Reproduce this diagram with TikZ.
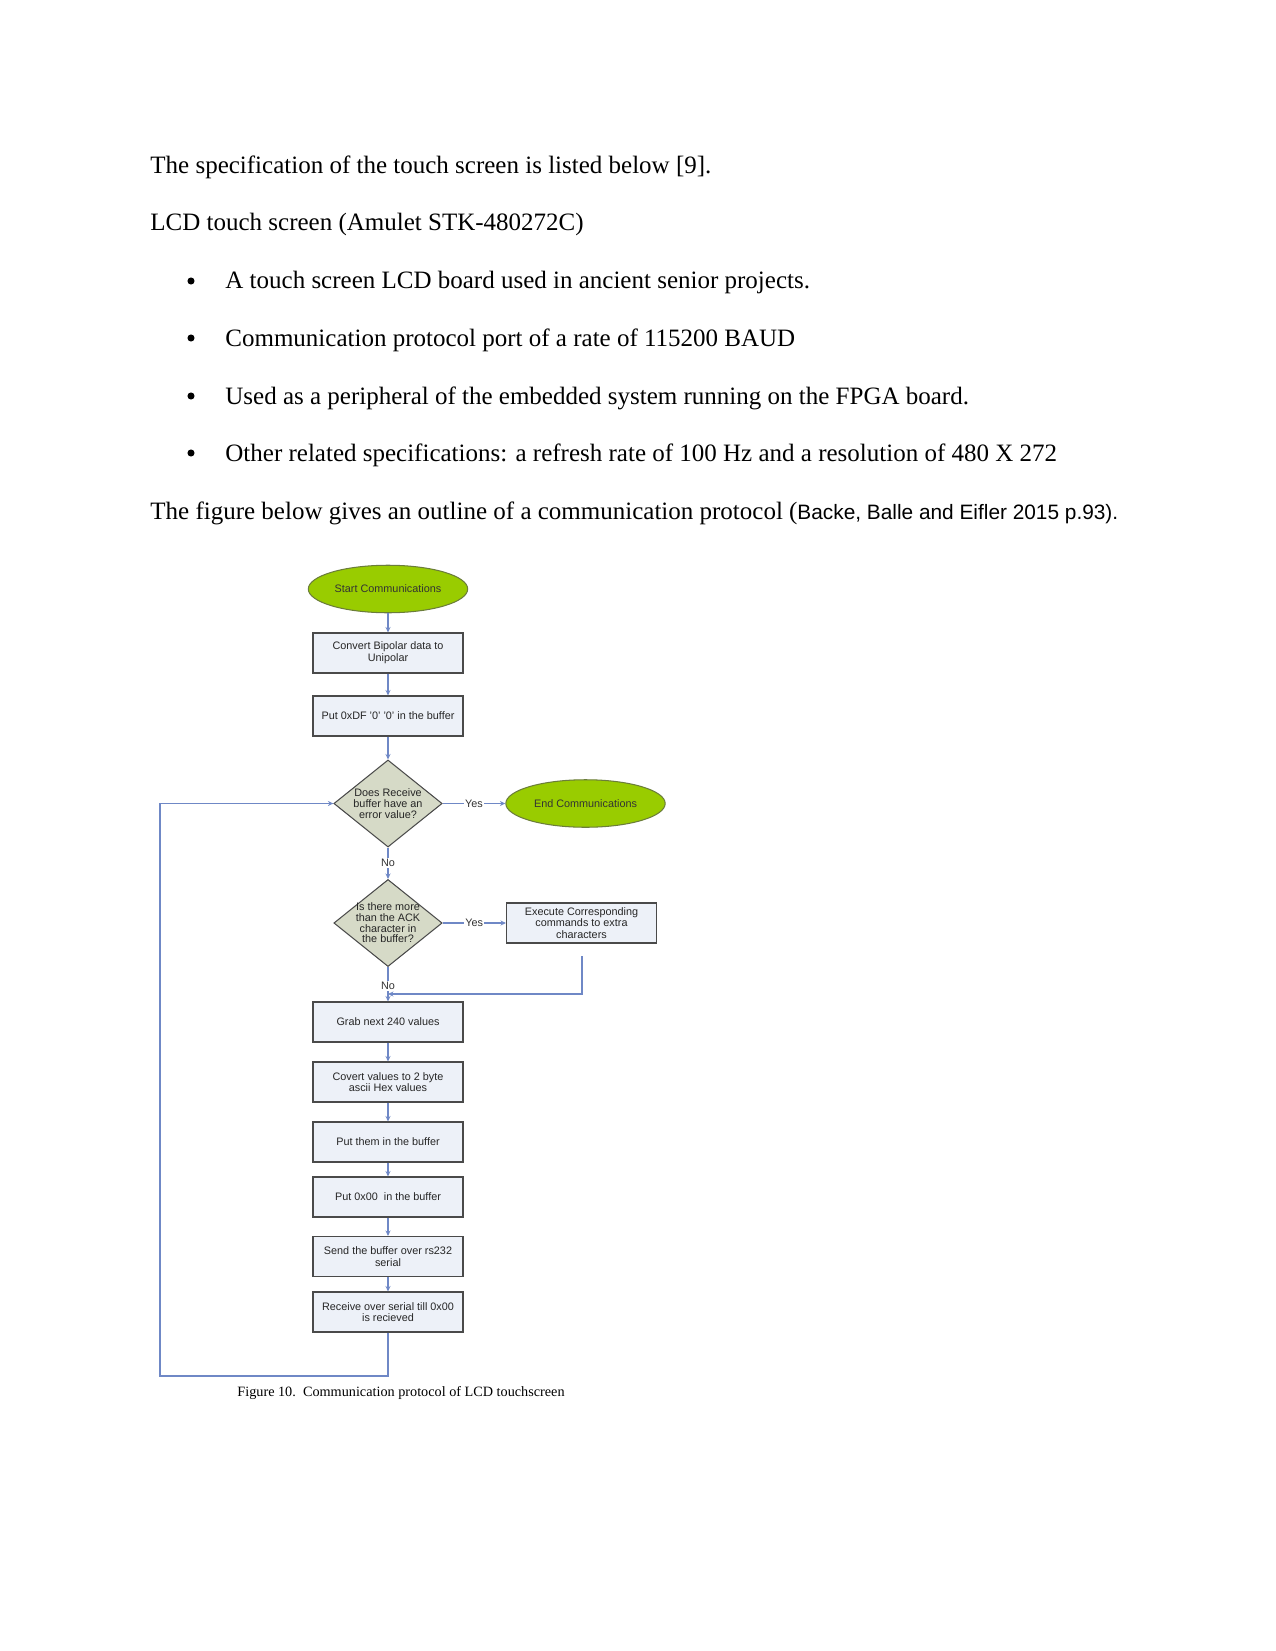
\documentclass[tikz,border=0pt]{standalone}
\usepackage{fontspec}
\setmainfont{Liberation Serif}
\setsansfont{Liberation Sans}
\usetikzlibrary{shapes.geometric,arrows.meta}
\definecolor{lime}{HTML}{99CC00}
\definecolor{limeedge}{HTML}{6B7D3A}
\definecolor{boxfill}{HTML}{EDF1F8}
\definecolor{diafill}{HTML}{D6DAC7}
\definecolor{edgegray}{HTML}{4A4A4A}
\definecolor{conn}{HTML}{6F88C6}
\tikzset{
  body/.style={anchor=base west, inner sep=0pt, font=\fontsize{12pt}{14pt}\selectfont},
  bulletmark/.style={circle, fill=black, inner sep=0pt, minimum size=3.4pt},
  proc/.style={rectangle, draw=edgegray, line width=0.55pt, fill=boxfill, minimum width=72pt, minimum height=19.2pt, inner sep=1pt, align=center, font=\sffamily\fontsize{5.2pt}{5.6pt}\selectfont, text=black!85},
  term/.style={ellipse, draw=limeedge, line width=0.5pt, fill=lime, minimum width=76.5pt, minimum height=22.8pt, inner sep=0pt, font=\sffamily\fontsize{5.2pt}{5.6pt}\selectfont, text=black!80},
  decision/.style={diamond, draw=edgegray, line width=0.5pt, fill=diafill, minimum width=52pt, minimum height=41.8pt, inner sep=0pt},
  dtext/.style={align=center, inner sep=0pt, font=\sffamily\fontsize{5.2pt}{5.1pt}\selectfont, text=black!85},
  flow/.style={draw=conn, line width=0.5pt, -{Stealth[length=2.6pt,width=2.4pt]}},
  lbl/.style={fill=white, inner sep=0.6pt, font=\sffamily\fontsize{5.2pt}{5.6pt}\selectfont, text=black!80},
  captionstyle/.style={anchor=base west, inner sep=0pt, font=\fontsize{6.83pt}{8pt}\selectfont}
}
\begin{document}
\begin{tikzpicture}[x=0.48pt, y=-0.48pt]
\useasboundingbox[fill=white] (0,0) rectangle (1275,1651);

% body text
\node[body] (t1) at (150,174) {The specification of the touch screen is listed below [9].};
\node[body] (t2) at (150,231) {LCD touch screen (Amulet STK-480272C)};
\node[bulletmark] (bu1) at (191,281) {};
\node[body] (l1) at (225,289) {A touch screen LCD board used in ancient senior projects.};
\node[bulletmark] (bu2) at (191,338) {};
\node[body] (l2) at (225,346) {Communication protocol port of a rate of 115200 BAUD};
\node[bulletmark] (bu3) at (191,396) {};
\node[body] (l3) at (225,404) {Used as a peripheral of the embedded system running on the FPGA board.};
\node[bulletmark] (bu4) at (191,453) {};
\node[body] (l4) at (225,461) {Other related specifications: a refresh rate of 100 Hz and a resolution of 480 X 272};
\node[body] (t3) at (150,519) {The figure below gives an outline of a communication protocol ({\sffamily\fontsize{10pt}{12pt}\selectfont Backe, Balle and Eifler 2015 p.93).}};

% flowchart nodes
\node[term] (start) at (388,589) {Start Communications};
\node[proc] (b1) at (388,653) {Convert Bipolar data to\\Unipolar};
\node[proc] (b2) at (388,716) {Put 0xDF '0' '0' in the buffer};
\node[decision] (d1) at (388,803.5) {};
\node[dtext] (d1t) at (388,803.5) {Does Receive\\buffer have an\\error value?};
\node[term] (endc) at (585.5,803.5) {End Communications};
\node[decision] (d2) at (388,923) {};
\node[dtext] (d2t) at (388,923) {Is there more\\than the ACK\\character in\\the buffer?};
\node[proc] (exec) at (581.5,923) {Execute Corresponding\\commands to extra\\characters};
\node[proc] (grab) at (388,1022) {Grab next 240 values};
\node[proc] (covert) at (388,1082) {Covert values to 2 byte\\ascii Hex values};
\node[proc] (putthem) at (388,1142) {Put them in the buffer};
\node[proc] (put00) at (388,1197) {Put 0x00\ \ in the buffer};
\node[proc] (send) at (388,1256.5) {Send the buffer over rs232\\serial};
\node[proc] (recv) at (388,1312) {Receive over serial till 0x00\\is recieved};

\coordinate (execbot) at (582,956);
\coordinate (joinpt) at (388,994);
\coordinate (loopa) at (388,1376);
\coordinate (loopb) at (160,1376);
\coordinate (loopc) at (160,803.5);

% connectors
\draw[flow] (start) -- (b1);
\draw[flow] (b1) -- (b2);
\draw[flow] (b2) -- (d1.north);
\draw[flow] (d1.east) -- node[lbl] (yes1) {Yes} (endc.west);
\draw[flow] (d1.south) -- node[lbl] (no1) {No} (d2.north);
\draw[flow] (d2.east) -- node[lbl] (yes2) {Yes} (exec.west);
\draw[flow] (d2.south) -- node[lbl, pos=0.55] (no2) {No} (grab.north);
\draw[flow] (execbot) |- (joinpt);
\draw[flow] (grab) -- (covert);
\draw[flow] (covert) -- (putthem);
\draw[flow] (putthem) -- (put00);
\draw[flow] (put00) -- (send);
\draw[flow] (send) -- (recv);
\draw[flow] (recv.south) -- (loopa) -- (loopb) -- (loopc) -- (d1.west);

% caption
\node[captionstyle] (cap) at (237,1396) {Figure 10.\ \ Communication protocol of LCD touchscreen};
\end{tikzpicture}
\end{document}
